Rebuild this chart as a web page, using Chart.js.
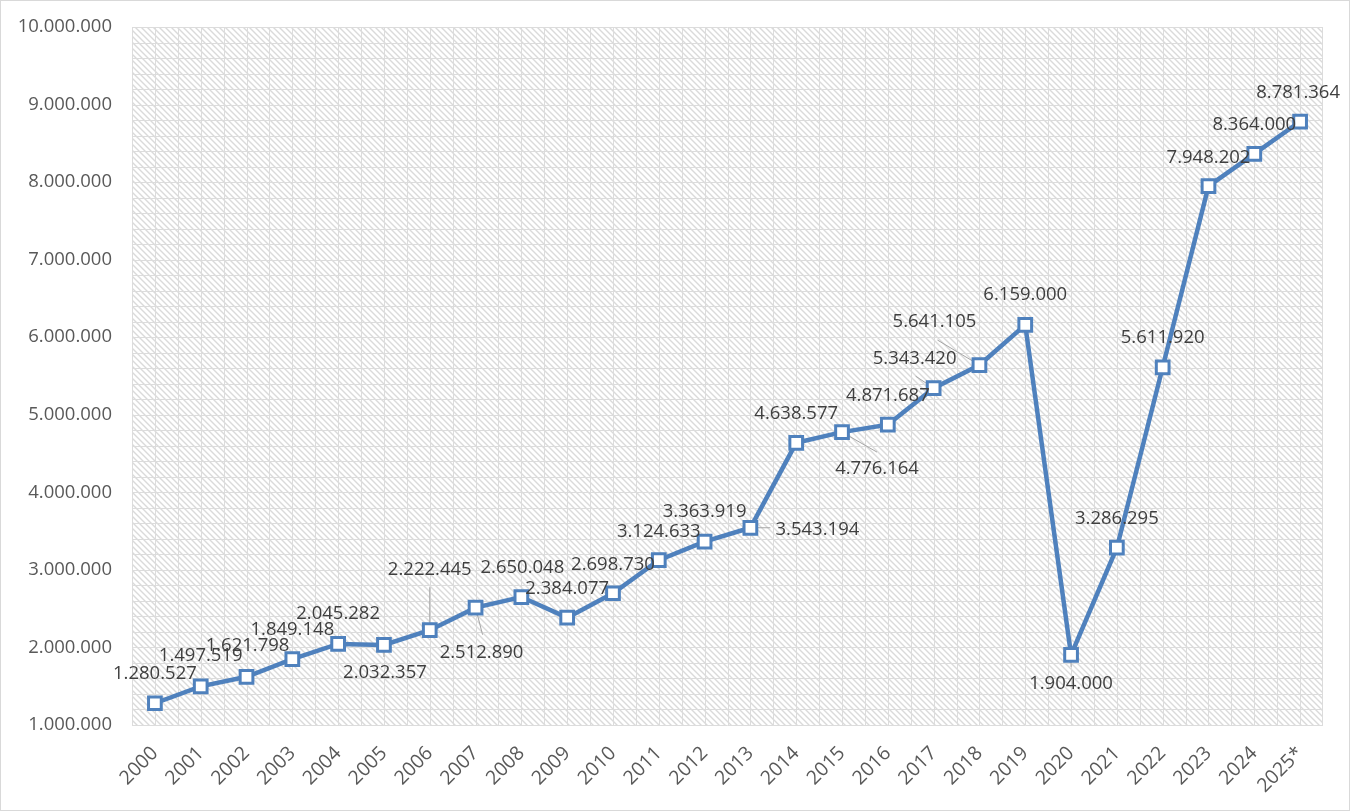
<!DOCTYPE html>
<html>
<head>
<meta charset="utf-8">
<script src="https://cdn.jsdelivr.net/npm/chart.js@4"></script>
<style>
  body { margin: 0; background: #fff; }
  #wrap { position: absolute; left: 0; top: 0; width: 1350px; height: 811px; }
</style>
</head>
<body>
<div id="wrap"><canvas id="myChart" width="1350" height="811"></canvas></div>
<script>
// chart data
const years = ["2000", "2001", "2002", "2003", "2004", "2005", "2006", "2007", "2008", "2009",
  "2010", "2011", "2012", "2013", "2014", "2015", "2016", "2017", "2018", "2019",
  "2020", "2021", "2022", "2023", "2024", "2025*"];
const visitors = [1280527, 1497519, 1621798, 1849148, 2045282, 2032357, 2222445, 2512890, 2650048, 2384077,
  2698730, 3124633, 3363919, 3543194, 4638577, 4776164, 4871687, 5343420, 5641105, 6159000,
  1904000, 3286295, 5611920, 7948202, 8364000, 8781364];
const yMin = 1000000;
const yMax = 10000000;
const yStep = 1000000;

// dotted thousands, like the original
const fmt = (v) => String(Math.round(v)).replace(/\B(?=(\d{3})+(?!\d))/g, ".");

const FONT = "'Open Sans', 'Liberation Sans', sans-serif";
const LINE_BLUE = "#4F81BD";

// label placement relative to each point: [dx, dy, leaderDx, leaderDy] (leader optional)
const labelPlacement = [
  [0, -30], [0, -31], [1, -31], [0, -29], [0, -30],
  [1, 28, 0, 12], [0, -60, 0, -43], [6, 45, 7, 27], [1, -29], [0, -29],
  [0, -29], [0, -28], [0, -30], [67, 2, 20, 0], [0, -29],
  [35, 37, 35, 20], [0, -29], [-19, -29, -18, -12], [-45, -43, -42, -25], [0, -30],
  [0, 29, 0, 12], [0, -29], [0, -30], [0, -28], [0, -29], [-2, -29]
];

// hatched fill used for the plot area
function makeHatch() {
  const c = document.createElement("canvas");
  c.width = 6; c.height = 6;
  const g = c.getContext("2d");
  g.fillStyle = "#ffffff";
  g.fillRect(0, 0, 6, 6);
  g.strokeStyle = "#dadada";
  g.lineWidth = 1.4;
  g.beginPath();
  g.moveTo(-1, -1); g.lineTo(7, 7);
  g.moveTo(-7, -1); g.lineTo(1, 7);
  g.moveTo(5, -1); g.lineTo(13, 7);
  g.stroke();
  return g.createPattern(c, "repeat");
}

const plotBackground = {
  id: "plotBackground",
  beforeDatasetsDraw(chart) {
    const { ctx, chartArea: a, scales: { x, y } } = chart;
    ctx.save();
    ctx.fillStyle = makeHatch();
    ctx.fillRect(a.left, a.top, a.right - a.left, a.bottom - a.top);

    // grid: every half category and every 200.000
    ctx.strokeStyle = "#dcdcdc";
    ctx.lineWidth = 1;
    ctx.beginPath();
    const half = (x.getPixelForValue(1) - x.getPixelForValue(0)) / 2;
    for (let i = 0; i < years.length; i++) {
      const cx = x.getPixelForValue(i);
      for (const px of [cx - half, cx]) {
        const sx = Math.round(px) + 0.5;
        ctx.moveTo(sx, a.top); ctx.lineTo(sx, a.bottom);
      }
    }
    const rx = Math.round(a.right) - 0.5;
    ctx.moveTo(rx, a.top); ctx.lineTo(rx, a.bottom);
    for (let v = yMin; v <= yMax; v += yStep / 5) {
      const sy = Math.round(y.getPixelForValue(v)) + 0.5;
      ctx.moveTo(a.left, sy); ctx.lineTo(a.right, sy);
    }
    ctx.stroke();

    // leader lines, under the markers
    const meta = chart.getDatasetMeta(0);
    ctx.strokeStyle = "#a6a6a6";
    ctx.lineWidth = 1;
    ctx.beginPath();
    meta.data.forEach((pt, i) => {
      const p = labelPlacement[i];
      if (p.length < 4) return;
      ctx.moveTo(pt.x, pt.y);
      ctx.lineTo(pt.x + p[2], pt.y + p[3]);
    });
    ctx.stroke();
    ctx.restore();
  },
  afterDatasetsDraw(chart) {
    const { ctx } = chart;
    const meta = chart.getDatasetMeta(0);
    ctx.save();
    ctx.font = "18.5px " + FONT;
    ctx.fillStyle = "#3f3f3f";
    ctx.textAlign = "center";
    ctx.textBaseline = "middle";
    meta.data.forEach((pt, i) => {
      const p = labelPlacement[i];
      ctx.fillText(fmt(visitors[i]), pt.x + p[0], pt.y + p[1]);
    });
    ctx.restore();
  },
  afterDraw(chart) {
    const { ctx } = chart;
    ctx.save();
    ctx.strokeStyle = "#d9d9d9";
    ctx.lineWidth = 1;
    ctx.strokeRect(0.5, 0.5, chart.width - 1, chart.height - 1);
    ctx.restore();
  }
};

const ctx = document.getElementById("myChart");
new Chart(ctx, {
  type: "line",
  data: {
    labels: years,
    datasets: [{
      data: visitors,
      borderColor: LINE_BLUE,
      borderWidth: 4.5,
      pointStyle: "rect",
      pointRadius: 9,
      pointBorderWidth: 3,
      pointBorderColor: LINE_BLUE,
      pointBackgroundColor: "#ffffff",
      tension: 0,
      clip: false
    }]
  },
  options: {
    responsive: false,
    animation: false,
    events: [],
    layout: { padding: { top: 27, right: 27, bottom: 0, left: 0 } },
    plugins: {
      legend: { display: false },
      tooltip: { enabled: false }
    },
    scales: {
      x: {
        offset: true,
        grid: { display: false, drawTicks: false },
        border: { display: false },
        ticks: {
          autoSkip: false,
          maxRotation: 45,
          minRotation: 45,
          padding: 17,
          color: "#595959",
          font: { family: FONT, size: 19.5 }
        },
        afterFit(scale) {
          scale.height = 86;
          scale.paddingLeft = 0;
          scale.paddingRight = 0;
        }
      },
      y: {
        min: yMin,
        max: yMax,
        grid: { display: false, drawTicks: false },
        border: { display: false },
        ticks: {
          stepSize: yStep,
          padding: 20,
          color: "#595959",
          font: { family: FONT, size: 18.5 },
          callback: (v) => fmt(v)
        },
        afterFit(scale) {
          scale.width = 132;
          scale.paddingTop = 0;
          scale.paddingBottom = 0;
        }
      }
    }
  },
  plugins: [plotBackground]
});
</script>
</body>
</html>
